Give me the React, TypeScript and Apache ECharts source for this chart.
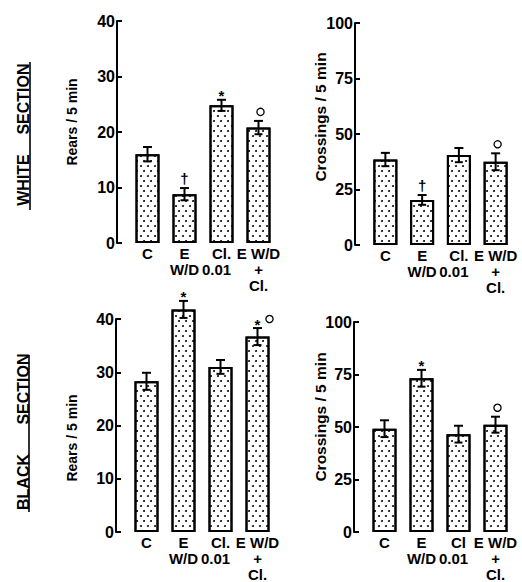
import React, { useEffect, useRef } from "react";
import * as echarts from "echarts";

// ---------- data ----------
const categoriesWhiteRears = ["C", "E\nW/D", "Cl.\n0.01", "E W/D\n+\nCl."];
const categoriesWhiteCrossings = ["C", "E\nW/D", "Cl.\n0.01", "E W/D\n+\nCl."];
const categoriesBlackRears = ["C", "E\nW/D", "Cl.\n0.01", "E W/D\n+\nCl."];
const categoriesBlackCrossings = ["C", "E\nW/D", "Cl\n0.01", "E W/D\n+\nCl."];

const rearsTicks = [0, 10, 20, 30, 40];
const crossingsTicks = [0, 25, 50, 75, 100];

const whiteRears = [16, 8.8, 24.8, 20.8];
const whiteRearsSem = [1.3, 1.1, 1.0, 1.2];
const whiteRearsMarks = ["", "†", "*", "○"];

const whiteCrossings = [38.5, 20.3, 40.5, 37.5];
const whiteCrossingsSem = [3, 2.2, 3.2, 3.8];
const whiteCrossingsMarks = ["", "†", "", "○"];

const blackRears = [28.3, 41.8, 31, 36.7];
const blackRearsSem = [1.6, 1.6, 1.3, 1.6];
const blackRearsMarks = ["", "*", "", "*○"];

const blackCrossings = [49.2, 73.2, 46.6, 51.1];
const blackCrossingsSem = [4, 4, 4, 3.8];
const blackCrossingsMarks = ["", "*", "", "○"];

const rowLabels = ["WHITE", "SECTION", "BLACK", "SECTION"];
const axisNames = ["Rears / 5 min", "Crossings / 5 min"];

const FONT = '"Liberation Sans", Arial, Helvetica, sans-serif';

const panels = [
  { grid: { left: 129, top: 21, width: 148, height: 222 }, cats: categoriesWhiteRears, ticks: rearsTicks, means: whiteRears, sems: whiteRearsSem, marks: whiteRearsMarks },
  { grid: { left: 367, top: 23, width: 147, height: 222 }, cats: categoriesWhiteCrossings, ticks: crossingsTicks, means: whiteCrossings, sems: whiteCrossingsSem, marks: whiteCrossingsMarks },
  { grid: { left: 128, top: 319, width: 148, height: 218 }, cats: categoriesBlackRears, ticks: rearsTicks, means: blackRears, sems: blackRearsSem, marks: blackRearsMarks },
  { grid: { left: 366, top: 322, width: 148, height: 217 }, cats: categoriesBlackCrossings, ticks: crossingsTicks, means: blackCrossings, sems: blackCrossingsSem, marks: blackCrossingsMarks },
];

function errorSeries(idx: number, means: number[], sems: number[], marks: string[]) {
  return {
    type: "custom",
    xAxisIndex: idx,
    yAxisIndex: idx,
    z: 5,
    silent: true,
    data: means.map((m, i) => [i, m, sems[i]]),
    renderItem: (params: any, api: any) => {
      const i = api.value(0);
      const m = api.value(1);
      const s = api.value(2);
      const top = api.coord([i, m + s]);
      const bot = api.coord([i, m - s]);
      const x = top[0];
      const ls = { stroke: "#000", lineWidth: 2 };
      const children: any[] = [
        { type: "line", shape: { x1: x, y1: top[1], x2: x, y2: bot[1] }, style: ls },
        { type: "line", shape: { x1: x - 4.5, y1: top[1], x2: x + 4.5, y2: top[1] }, style: ls },
        { type: "line", shape: { x1: x - 4, y1: bot[1], x2: x + 4, y2: bot[1] }, style: ls },
      ];
      const syms = Array.from(marks[params.dataIndex] || "");
      syms.forEach((sym, k) => {
        const sx = x + k * 12;
        if (sym === "○") {
          children.push({
            type: "circle",
            shape: { cx: sx + (syms.length > 1 ? 0 : 2), cy: top[1] - 9, r: 3.6 },
            style: { fill: "#fff", stroke: "#000", lineWidth: 1.3 },
          });
        } else {
          children.push({
            type: "text",
            x: sx,
            y: top[1] - (sym === "*" ? 4 : 10),
            style: {
              text: sym,
              fill: "#000",
              fontSize: 15,
              fontWeight: "bold",
              fontFamily: FONT,
              align: "center",
              verticalAlign: "middle",
              textAlign: "center",
              textVerticalAlign: "middle",
            },
          });
        }
      });
      return { type: "group", children };
    },
  };
}

function rotatedText(text: string, x: number, y: number, size: number) {
  return {
    type: "text",
    x,
    y,
    rotation: Math.PI / 2,
    style: {
      text,
      fill: "#000",
      fontSize: size,
      fontWeight: "bold",
      fontFamily: FONT,
      align: "center",
      verticalAlign: "middle",
      textAlign: "center",
      textVerticalAlign: "middle",
    },
  };
}

export default function App() {
  const ref = useRef<HTMLDivElement>(null);

  useEffect(() => {
    if (!ref.current) return;
    const chart = echarts.init(ref.current, null, { renderer: "svg" });

    const decal = {
      symbol: "circle",
      symbolSize: 0.95,
      color: "#000",
      dashArrayX: [[1.8, 4.2], [0, 3, 1.8, 1.2]],
      dashArrayY: [1.8, 2.4],
      rotation: 0,
    };

    const option: any = {
      animation: false,
      backgroundColor: "#fff",
      grid: panels.map((p) => ({ ...p.grid, containLabel: false })),
      xAxis: panels.map((p, idx) => ({
        type: "category",
        gridIndex: idx,
        data: p.cats,
        axisLine: { show: false },
        axisTick: { show: false },
        splitLine: { show: false },
        axisLabel: {
          interval: 0,
          color: "#000",
          fontSize: 15,
          fontWeight: "bold",
          fontFamily: FONT,
          lineHeight: 16,
          margin: 2,
          formatter: (v: string) => v.replace("0.01", "{s|0.01}"),
          rich: {
            s: {
              fontSize: 15,
              fontWeight: "bold",
              fontFamily: FONT,
              color: "#000",
              lineHeight: 16,
              padding: [0, 10, 0, 0],
            },
          },
        },
      })),
      yAxis: panels.map((p, idx) => ({
        type: "value",
        gridIndex: idx,
        min: p.ticks[0],
        max: p.ticks[p.ticks.length - 1],
        interval: p.ticks[1] - p.ticks[0],
        offset: 12,
        axisLine: { show: true, lineStyle: { color: "#000", width: 2 } },
        axisTick: { show: true, inside: true, length: 5, lineStyle: { color: "#000", width: 2 } },
        splitLine: { show: false },
        axisLabel: {
          color: "#000",
          fontSize: 16,
          fontWeight: "bold",
          fontFamily: FONT,
          margin: 2,
        },
      })),
      series: [
        ...panels.map((p, idx) => ({
          type: "bar",
          xAxisIndex: idx,
          yAxisIndex: idx,
          data: p.means,
          barWidth: 24,
          clip: false,
          silent: true,
          itemStyle: {
            color: "#fff",
            borderColor: "#000",
            borderWidth: 2,
            decal,
          },
        })),
        ...panels.map((p, idx) => errorSeries(idx, p.means, p.sems, p.marks)),
      ],
      graphic: [
        rotatedText(rowLabels[0], 23, 180, 16),
        rotatedText(rowLabels[1], 23, 99, 16),
        { type: "line", shape: { x1: 30, y1: 62, x2: 30, y2: 210 }, style: { stroke: "#000", lineWidth: 1.6 } },
        rotatedText(rowLabels[2], 23, 482, 16),
        rotatedText(rowLabels[3], 23, 389, 16),
        { type: "line", shape: { x1: 29, y1: 355, x2: 29, y2: 512 }, style: { stroke: "#000", lineWidth: 1.6 } },
        rotatedText(axisNames[0], 72, 122, 14),
        rotatedText(axisNames[1], 320, 117, 15.5),
        rotatedText(axisNames[0], 72, 438, 14),
        rotatedText(axisNames[1], 320, 417, 15.5),
      ],
    };

    chart.setOption(option);
    return () => chart.dispose();
  }, []);

  return (
    <div
      ref={ref}
      style={{ position: "fixed", left: 0, top: 0, width: 522, height: 582, background: "#fff" }}
    />
  );
}
